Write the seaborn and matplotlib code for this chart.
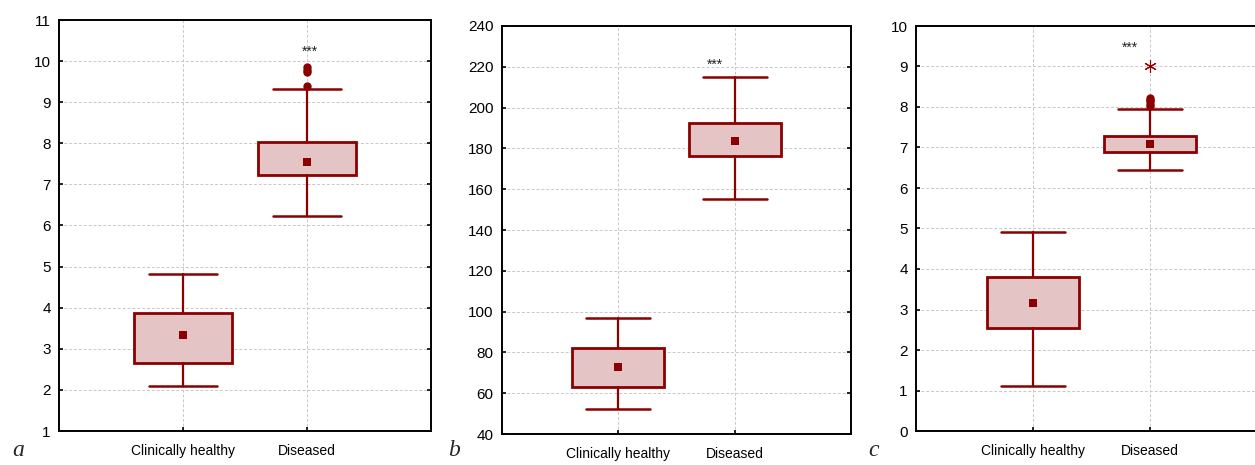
import matplotlib.pyplot as plt
import numpy as np
import pandas as pd
import seaborn as sns

groups = ["Clinically healthy", "Diseased"]

# panel a
a_low = [2.10, 6.22]
a_q1 = [2.65, 7.22]
a_mid = [3.34, 7.54]
a_q3 = [3.88, 8.03]
a_high = [4.82, 9.31]
a_out = [[], [9.40, 9.74, 9.78, 9.86]]
a_ext = [[], []]

# panel b
b_low = [52.3, 155.3]
b_q1 = [63.0, 176.3]
b_mid = [72.8, 183.6]
b_q3 = [82.2, 192.4]
b_high = [96.9, 215.2]
b_out = [[], []]
b_ext = [[], []]

# panel c
c_low = [1.10, 6.45]
c_q1 = [2.54, 6.89]
c_mid = [3.15, 7.08]
c_q3 = [3.80, 7.28]
c_high = [4.91, 7.96]
c_out = [[], [8.02, 8.08, 8.14, 8.18, 8.22]]
c_ext = [[], [9.0]]

ylims = [(1, 11), (40, 240), (0, 10)]
ysteps = [1, 20, 1]
star_pos = [(1.02, 10.22), (0.83, 221.0), (0.83, 9.45)]
letters = ["a", "b", "c"]

sns.set_style("ticks")
plt.rcParams['font.family'] = ['Liberation Sans Narrow', 'Liberation Sans', 'DejaVu Sans']

red = "#8b0000"
fill = "#e4c4c4"

fig = plt.figure(figsize=(12.55, 4.65), dpi=100)
rects = [
    [59 / 1255, 34 / 465, 372 / 1255, 411 / 465],
    [502 / 1255, 31 / 465, 349 / 1255, 408 / 465],
    [916 / 1255, 34 / 465, 351 / 1255, 405 / 465],
]
panels = [
    (a_low, a_q1, a_mid, a_q3, a_high, a_out, a_ext),
    (b_low, b_q1, b_mid, b_q3, b_high, b_out, b_ext),
    (c_low, c_q1, c_mid, c_q3, c_high, c_out, c_ext),
]
letter_pos = [(12 / 1255, 4 / 465), (448 / 1255, 4 / 465), (868 / 1255, 4 / 465)]

for i, (low, q1, mid, q3, high, out, ext) in enumerate(panels):
    ax = fig.add_axes(rects[i])
    stats = []
    for j, g in enumerate(groups):
        stats.append(dict(label=g, whislo=low[j], q1=q1[j], med=mid[j], q3=q3[j],
                          whishi=high[j], fliers=[]))
    ax.bxp(stats, positions=[0, 1], widths=0.79, patch_artist=True, showfliers=False,
           boxprops=dict(facecolor=fill, edgecolor=red, linewidth=2.0),
           whiskerprops=dict(color=red, linewidth=1.6),
           capprops=dict(color=red, linewidth=1.8),
           medianprops=dict(linewidth=0),
           capwidths=0.55, zorder=3)

    centers = pd.DataFrame({"x": [0, 1], "y": mid})
    sns.scatterplot(data=centers, x="x", y="y", marker="s", s=32, color=red,
                    edgecolor=red, linewidth=0, ax=ax, zorder=4)

    ox = [j for j in range(2) for _ in out[j]]
    oy = [v for j in range(2) for v in out[j]]
    if oy:
        sns.scatterplot(x=ox, y=oy, marker="o", s=36, color=red, edgecolor=red,
                        linewidth=0, ax=ax, zorder=4)
    ex = [j for j in range(2) for _ in ext[j]]
    ey = [v for j in range(2) for v in ext[j]]
    if ey:
        ax.plot(ex, ey, linestyle="none", marker=(6, 2, 0), markersize=9,
                markeredgewidth=0.8, color=red, zorder=4)

    ax.text(star_pos[i][0], star_pos[i][1], "***", ha="center", va="center",
            fontsize=10, color="#222222")

    lo, hi = ylims[i]
    ax.set_xlim(-1, 2)
    ax.set_ylim(lo, hi)
    ax.set_yticks(np.arange(lo, hi + 0.001, ysteps[i]))
    ax.set_xticks([0, 1])
    ax.set_xticklabels(groups)
    ax.grid(True, color="#c8c8c8", linestyle=(0, (3, 2)), linewidth=0.7)
    ax.set_axisbelow(True)
    for sp in ax.spines.values():
        sp.set_visible(True)
        sp.set_linewidth(1.4)
        sp.set_color("black")
    ax.tick_params(axis="y", direction="in", length=3, width=1.2, right=True,
                   labelsize=11, pad=6, colors="black")
    ax.tick_params(axis="x", direction="in", length=3, width=1.2, top=False,
                   labelsize=10, pad=9, colors="black")
    ax.set_xlabel("")
    ax.set_ylabel("")

    fig.text(letter_pos[i][0], letter_pos[i][1], letters[i], fontsize=17,
             style="italic", family=["Liberation Serif", "DejaVu Serif"], ha="left", va="bottom")

fig.savefig("out.png", dpi=100)
